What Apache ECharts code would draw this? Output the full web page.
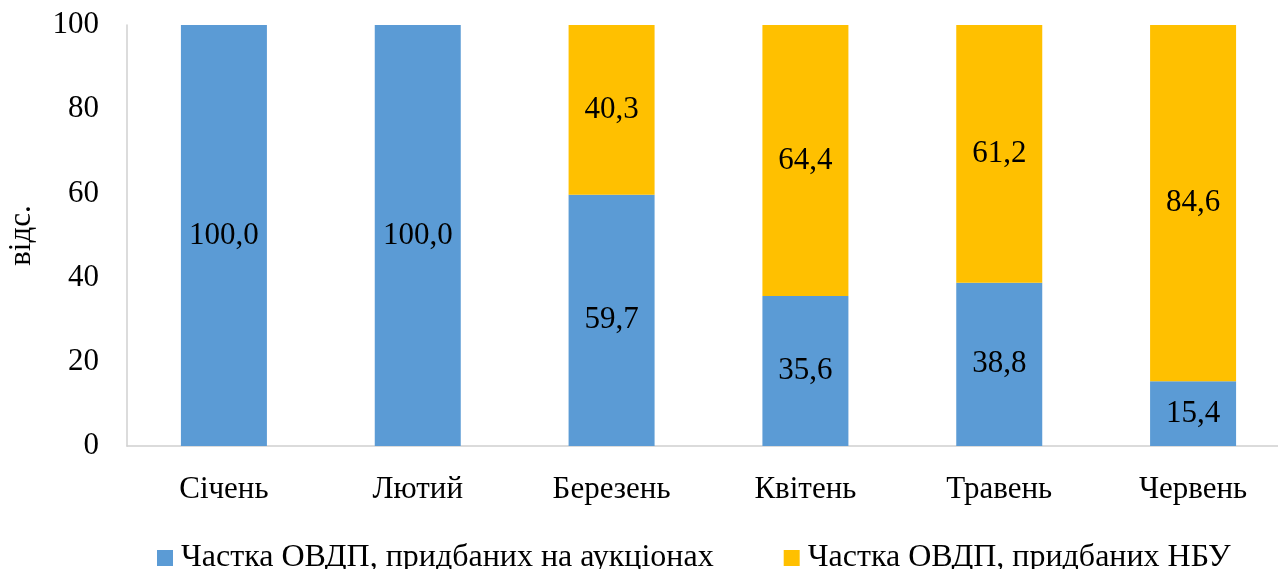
<!DOCTYPE html>
<html>
<head>
<meta charset="utf-8">
<script src="https://cdn.jsdelivr.net/npm/echarts@6/dist/echarts.min.js"></script>
<style>
	html, body { margin: 0; padding: 0; background: #fff; }
	#main { width: 1278px; height: 569px; }
</style>
</head>
<body>
<div id="main"></div>
<script>
'use strict';
var months = ['Січень', 'Лютий', 'Березень', 'Квітень', 'Травень', 'Червень'];
var auctionShare = [100.0, 100.0, 59.7, 35.6, 38.8, 15.4];
var nbuShare = [null, null, 40.3, 64.4, 61.2, 84.6];
var seriesNames = ['Частка ОВДП, придбаних на аукціонах', 'Частка ОВДП, придбаних НБУ'];

var font = '"Liberation Serif", "Times New Roman", serif';
var fs = 31;

function fmt(p) {
	return p.value == null ? '' : p.value.toFixed(1).replace('.', ',');
}

var chart = echarts.init(document.getElementById('main'));
chart.setOption({
	animation: false,
	textStyle: { fontFamily: font },
	grid: { left: 127, right: -12, top: 25, bottom: 123, outerBoundsMode: 'none', containLabel: false },
	legend: {
		data: seriesNames,
		top: 542,
		left: 157,
		itemWidth: 16,
		itemHeight: 16,
		itemGap: 70,
		icon: 'rect',
		textStyle: { fontFamily: font, fontSize: 32, color: '#000', padding: [0, 0, 0, 3] },
		padding: 0
	},
	xAxis: {
		type: 'category',
		data: months,
		axisLine: { lineStyle: { color: '#d0d0d0', width: 1.5 } },
		axisTick: { show: false },
		axisLabel: { fontFamily: font, fontSize: fs, color: '#000', margin: 28 }
	},
	yAxis: {
		type: 'value',
		min: 0,
		max: 100,
		interval: 20,
		name: 'відс.',
		nameLocation: 'middle',
		nameGap: 90,
		nameTextStyle: { fontFamily: font, fontSize: fs, color: '#000' },
		axisLine: { show: true, lineStyle: { color: '#d0d0d0', width: 1.5 } },
		axisTick: { show: false },
		splitLine: { show: false },
		axisLabel: { fontFamily: font, fontSize: fs, color: '#000', margin: 28 }
	},
	series: [{
		name: seriesNames[0],
		type: 'bar',
		stack: 'total',
		barWidth: 86,
		data: auctionShare,
		itemStyle: { color: '#5B9BD5' },
		label: {
			show: true, position: 'inside', formatter: fmt,
			fontFamily: font, fontSize: fs, color: '#000'
		}
	}, {
		name: seriesNames[1],
		type: 'bar',
		stack: 'total',
		barWidth: 86,
		data: nbuShare,
		itemStyle: { color: '#FFC000' },
		label: {
			show: true, position: 'inside', formatter: fmt,
			fontFamily: font, fontSize: fs, color: '#000'
		}
	}]
});
</script>
</body>
</html>
